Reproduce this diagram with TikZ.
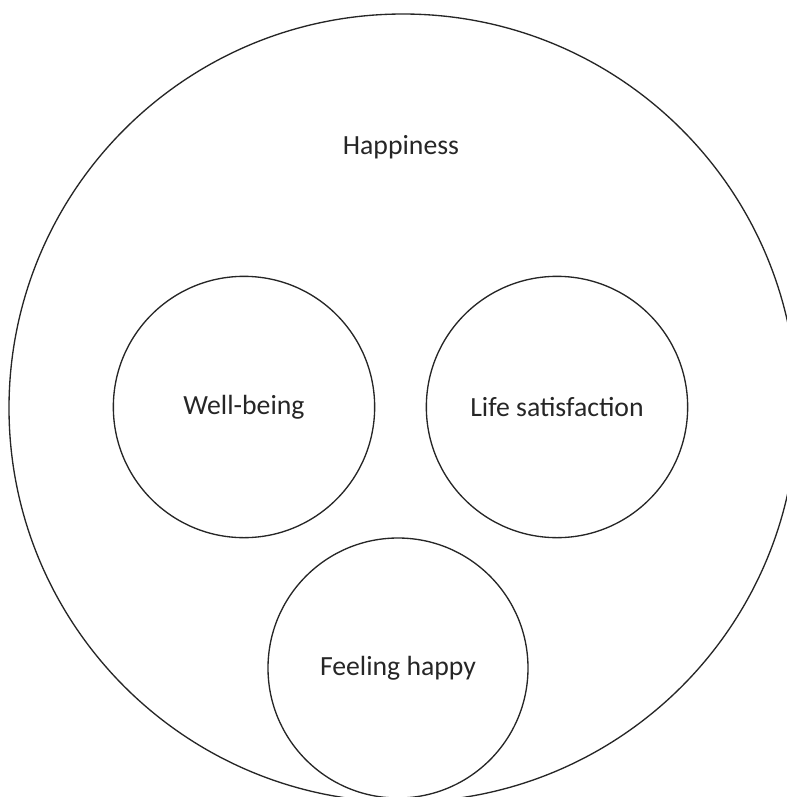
\documentclass[tikz,border=0pt]{standalone}
\usepackage{fontspec}
\setmainfont{Carlito}
\usetikzlibrary{positioning}
\tikzset{
  ring/.style={draw=black!85, line width=1pt, circle, inner sep=0pt},
  outerring/.style={ring, minimum size=591pt},
  innerring/.style={ring, minimum size=196pt, font=\fontsize{20.8}{25}\selectfont, text=black!85},
  lbl/.style={font=\fontsize{20.8}{25}\selectfont, text=black!85}
}
\begin{document}
\begin{tikzpicture}[x=0.75pt, y=-0.75pt]
\useasboundingbox (0,0) rectangle (787,797);
\clip (0,0) rectangle (787,797);
\node[outerring] (happy) at (403,408) {};
\node[lbl] (happylbl) at (401,147) {Happiness};
\node[innerring] (wb) at (244,407) {Well-being};
\node[innerring] (ls) at (557,407) {Life satisfaction};
\node[innerring, minimum size=195pt] (fh) at (398,668) {Feeling happy};
\end{tikzpicture}
\end{document}
